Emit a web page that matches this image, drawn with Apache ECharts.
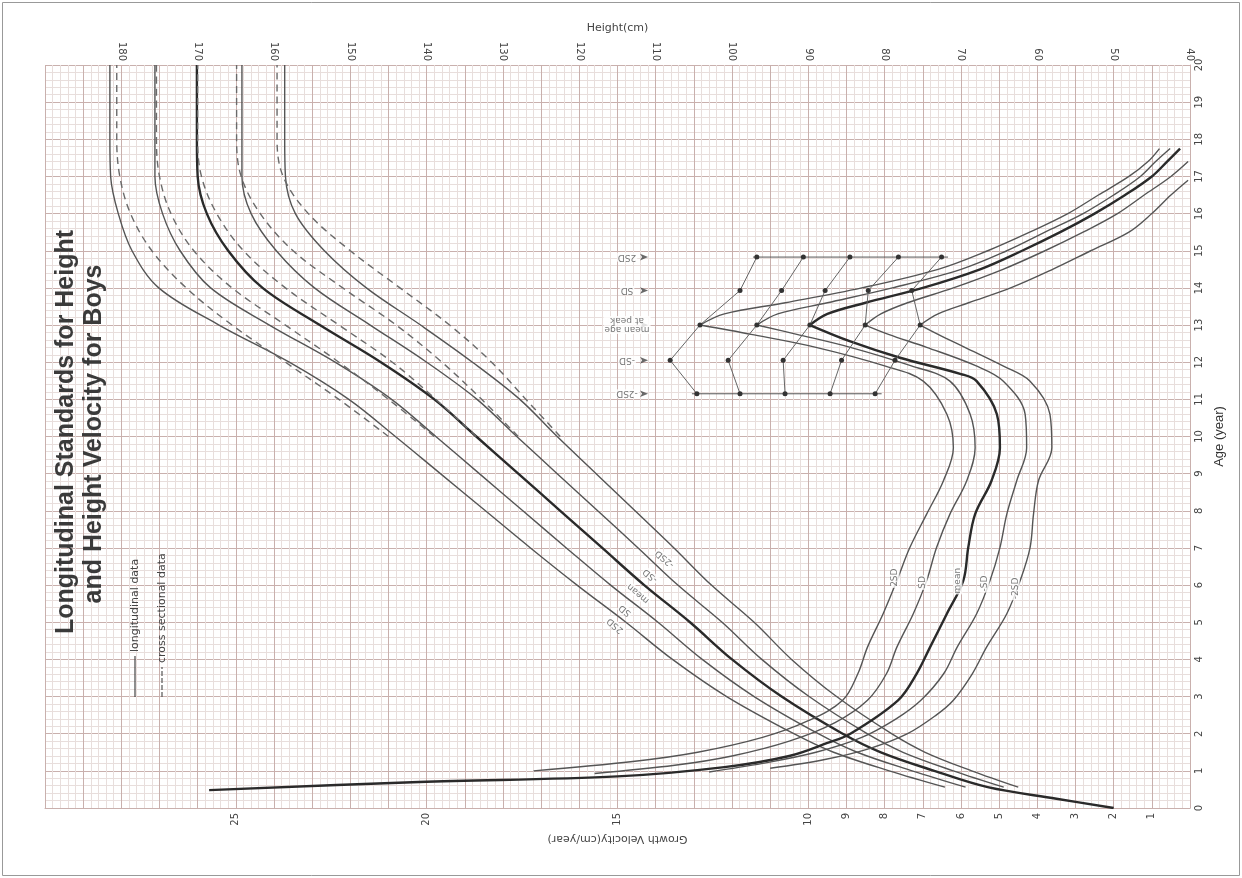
<!DOCTYPE html>
<html>
<head>
<meta charset="utf-8">
<title>Longitudinal Standards for Height and Height Velocity for Boys</title>
<script src="https://cdn.jsdelivr.net/npm/echarts/dist/echarts.min.js"></script>
<style>
  html, body { margin: 0; padding: 0; background: #fff; }
  #main { width: 1242px; height: 878px; }
</style>
</head>
<body>
<div id="main"></div>
<script>
// tick labels shown on the velocity axis
const velocityTicks = [1, 2, 3, 4, 5, 6, 7, 8, 9, 10, 15, 20, 25];

// longitudinal height (cm), solid lines
const heightMeanAges = [0, 0.25, 0.56, 1, 1.5, 2, 3, 4, 5, 6, 7, 8, 9, 10, 11, 12, 13, 14, 15, 16, 17, 18, 20];
const heightMean = [50, 57.5, 66.5, 73.5, 80.5, 85.5, 93.5, 100, 105.5, 111.5, 117, 122.5, 128, 133.5, 139, 146, 154, 161.5, 166, 168.8, 170, 170.1, 170.1];
const heightAges = [0.56, 1, 1.5, 2, 3, 4, 5, 6, 7, 8, 9, 10, 11, 12, 13, 14, 15, 16, 17, 18, 20];
const heightP2 = [72.1, 79.4, 86.7, 91.9, 100.7, 107.8, 113.9, 120.3, 126.4, 132.3, 138.2, 144.1, 150.2, 158.0, 167.2, 175.1, 178.6, 180.4, 181.4, 181.5, 181.5];
const heightP1 = [69.4, 76.4, 83.6, 88.7, 97.1, 103.9, 109.7, 115.9, 121.7, 127.4, 133.1, 138.8, 144.6, 152.0, 160.6, 168.3, 172.3, 174.6, 175.6, 175.6, 175.6];
const heightM1 = [64.4, 71.0, 77.6, 82.3, 89.9, 96.1, 101.3, 107.1, 112.3, 117.6, 122.9, 128.2, 133.4, 140.0, 147.4, 154.7, 159.7, 163.0, 164.2, 164.2, 164.2];
const heightM2 = [62.5, 68.6, 74.7, 79.1, 86.3, 92.2, 97.1, 102.7, 107.6, 112.7, 117.8, 122.9, 127.8, 134.0, 140.8, 147.9, 153.4, 157.2, 158.5, 158.6, 158.6];

// cross sectional height (cm), dashed lines
const crossAges = [10, 11, 12, 13, 14, 15, 16, 17, 18, 20];
const crossP2 = [145, 151.5, 158.5, 165.5, 171.5, 176, 178.8, 180.2, 180.6, 180.6];
const crossP1 = [139, 145, 151.5, 158.5, 165.5, 170.5, 173.5, 175, 175.4, 175.4];
const crossMean = [133.5, 138.8, 144.5, 151.5, 158.5, 164, 167.5, 169.5, 170, 170];
const crossM1 = [128, 132.8, 138, 144, 151, 157.5, 161.8, 164.3, 164.9, 164.9];
const crossM2 = [122.5, 127, 131.5, 137, 143.5, 150, 155.5, 158.8, 159.6, 159.6];

// growth velocity (cm/year) up to the peak at 13
const velP2Ages = [1.0, 1.25, 1.5, 1.9, 2.35, 2.9, 3.62, 4.33, 5.23, 6.12, 7.01, 7.91, 8.81, 9.7, 10.6, 11.49, 11.9, 12.4, 12.75, 13.0];
const velP2 = [17.2, 14.6, 12.9, 11.2, 10.0, 9.1, 8.7, 8.45, 8.04, 7.68, 7.34, 6.90, 6.46, 6.20, 6.37, 6.99, 8.0, 9.8, 11.5, 12.84];
const velP1Ages = [0.93, 1.15, 1.4, 1.8, 2.3, 2.9, 3.62, 4.33, 5.23, 6.12, 7.01, 7.91, 8.81, 9.7, 10.6, 11.49, 11.9, 12.4, 12.75, 13.0];
const velP1 = [15.6, 13.5, 12.0, 10.5, 9.3, 8.45, 7.95, 7.68, 7.25, 6.90, 6.64, 6.29, 5.85, 5.63, 5.76, 6.29, 7.3, 8.9, 10.3, 11.35];
const velMeanAges = [0.48, 0.7, 0.85, 1.1, 1.4, 1.75, 2.0, 2.9, 3.62, 4.33, 5.23, 6.12, 7.01, 7.91, 8.81, 9.7, 10.6, 11.49, 11.68, 12.12, 12.56, 13.0];
const velMean = [25.7, 20.2, 15.0, 12.2, 10.5, 9.5, 8.9, 7.65, 7.16, 6.81, 6.37, 5.94, 5.81, 5.63, 5.20, 4.98, 5.06, 5.59, 6.0, 7.6, 8.9, 9.96];
const velM1Ages = [0.97, 1.2, 1.5, 1.9, 2.4, 2.9, 3.62, 4.33, 5.23, 6.12, 7.01, 7.91, 8.81, 9.7, 10.6, 11.49, 11.9, 12.4, 12.75, 13.0];
const velM1 = [12.6, 11.2, 9.8, 8.6, 7.7, 7.05, 6.45, 6.1, 5.59, 5.24, 4.98, 4.80, 4.54, 4.28, 4.32, 4.89, 5.6, 6.9, 7.9, 8.51];
const velM2Ages = [1.07, 1.3, 1.6, 2.0, 2.5, 2.9, 3.62, 4.33, 5.23, 6.12, 7.01, 7.91, 8.81, 9.7, 10.6, 11.49, 11.9, 12.4, 12.75, 13.0];
const velM2 = [11.0, 9.6, 8.4, 7.4, 6.65, 6.2, 5.7, 5.33, 4.80, 4.45, 4.19, 4.10, 3.97, 3.62, 3.67, 4.19, 4.9, 5.9, 6.6, 7.07];

// growth velocity after the peak
const velPostAges = [13.0, 13.3, 13.6, 14.0, 14.5, 15.0, 15.5, 16.0, 16.5, 17.0, 17.4, 17.75];
const velP2Post = [12.84, 12.2, 10.6, 8.6, 6.6, 5.3, 4.2, 3.2, 2.4, 1.6, 1.1, 0.8];
const velP1Post = [11.35, 10.8, 9.5, 7.8, 6.0, 4.8, 3.8, 2.8, 2.0, 1.3, 0.9, 0.52];
const velMeanPost = [9.96, 9.5, 8.5, 7.0, 5.5, 4.4, 3.4, 2.5, 1.7, 1.0, 0.6, 0.26];
const velM1PostAges = [13.0, 13.3, 13.6, 14.0, 14.5, 15.0, 15.5, 16.0, 16.5, 17.0, 17.4];
const velM1Post = [8.51, 8.1, 7.4, 6.2, 4.9, 3.8, 2.8, 1.9, 1.2, 0.5, 0.05];
const velM2PostAges = [13.0, 13.3, 13.6, 14.0, 14.5, 15.0, 15.5, 16.0, 16.5, 16.9];
const velM2Post = [7.07, 6.6, 5.8, 4.7, 3.6, 2.6, 1.6, 1.0, 0.5, 0.05];

// peak velocity against age at peak (ladder)
const ladderAges = [11.15, 12.05, 13.0, 13.93, 14.83];
const ladderP2 = [12.92, 13.62, 12.84, 11.79, 11.35];
const ladderP1 = [11.79, 12.10, 11.35, 10.70, 10.13];
const ladderMean = [10.61, 10.66, 9.96, 9.56, 8.91];
const ladderM1 = [9.43, 9.13, 8.51, 8.43, 7.64];
const ladderM2 = [8.25, 7.73, 7.07, 7.29, 6.51];
const ladderRowLow = [13.05, 8.08];   // velocity span of the 11.15 row
const ladderRowHigh = [11.45, 6.34];  // velocity span of the 14.83 row
const ladderNames = ['-2SD', '-SD', 'mean age\nat peak', 'SD', '2SD'];

// curve labels
const curveNames = ['2SD', 'SD', 'mean', '-SD', '-2SD'];
const heightLabelH = [115.3, 114.0, 112.3, 110.7, 108.8];
const heightLabelAge = [4.91, 5.32, 5.77, 6.26, 6.71];
const velLabelV = [7.73, 7.00, 6.08, 5.37, 4.58];
const velLabelAge = [6.20, 6.07, 6.12, 6.04, 5.91];

function zip(xs, ages) {
  return xs.map((x, i) => [x, ages[i]]);
}

function curve(xIdx, values, ages, thick, dashed) {
  return {
    type: 'line',
    xAxisIndex: xIdx,
    data: zip(values, ages),
    smooth: 0.35,
    symbol: 'none',
    silent: true,
    z: 3,
    lineStyle: {
      color: thick ? '#2a2a2a' : (dashed ? '#6a6a6a' : '#555'),
      width: thick ? 2.4 : 1.4,
      type: dashed ? [7, 5] : 'solid'
    }
  };
}

function ladder(values) {
  return {
    type: 'line',
    xAxisIndex: 0,
    data: zip(values, ladderAges),
    symbol: 'circle',
    symbolSize: 5,
    showAllSymbol: true,
    silent: true,
    z: 4,
    itemStyle: { color: '#333' },
    lineStyle: { color: '#666', width: 1 }
  };
}

function labels(xIdx, values, ages, names, rotate, size) {
  return {
    type: 'scatter',
    xAxisIndex: xIdx,
    data: values.map((v, i) => [v, ages[i], names[i]]),
    symbol: 'circle',
    symbolSize: 1,
    silent: true,
    z: 5,
    itemStyle: { color: 'rgba(0,0,0,0)' },
    label: {
      show: true,
      position: 'inside',
      rotate: rotate,
      formatter: p => p.data[2],
      fontSize: size,
      color: '#555',
      fontFamily: 'DejaVu Sans',
      backgroundColor: '#fff',
      padding: [0, 1]
    }
  };
}

let series = [
  curve(1, heightP2, heightAges),
  curve(1, heightP1, heightAges),
  curve(1, heightMean, heightMeanAges, true),
  curve(1, heightM1, heightAges),
  curve(1, heightM2, heightAges),
  curve(1, crossP2, crossAges, false, true),
  curve(1, crossP1, crossAges, false, true),
  curve(1, crossMean, crossAges, false, true),
  curve(1, crossM1, crossAges, false, true),
  curve(1, crossM2, crossAges, false, true),
  curve(0, velP2, velP2Ages),
  curve(0, velP1, velP1Ages),
  curve(0, velMean, velMeanAges, true),
  curve(0, velM1, velM1Ages),
  curve(0, velM2, velM2Ages),
  curve(0, velP2Post, velPostAges),
  curve(0, velP1Post, velPostAges),
  curve(0, velMeanPost, velPostAges, true),
  curve(0, velM1Post, velM1PostAges),
  curve(0, velM2Post, velM2PostAges),
  ladder(ladderP2),
  ladder(ladderP1),
  ladder(ladderMean),
  ladder(ladderM1),
  ladder(ladderM2),
  {
    type: 'line', xAxisIndex: 0, symbol: 'none', silent: true, z: 4,
    data: zip(ladderRowLow, [ladderAges[0], ladderAges[0]]),
    lineStyle: { color: '#555', width: 1 }
  },
  {
    type: 'line', xAxisIndex: 0, symbol: 'none', silent: true, z: 4,
    data: zip(ladderRowHigh, [ladderAges[4], ladderAges[4]]),
    lineStyle: { color: '#555', width: 1 }
  },
  // little arrows pointing at the ladder rows
  {
    type: 'scatter', xAxisIndex: 0, silent: true, z: 4,
    data: ladderAges.map(a => [14.2, a]),
    symbol: 'arrow', symbolRotate: -90, symbolSize: [5, 8],
    itemStyle: { color: '#444' }
  },
  labels(0, ladderAges.map(() => 14.75), ladderAges, ladderNames, 180, 9),
  labels(1, heightLabelH, heightLabelAge, curveNames, 140, 9),
  labels(0, velLabelV, velLabelAge, curveNames, 90, 9)
];

let myChart = echarts.init(document.getElementById('main'));

const major = '#c9b0ad';
const minor = '#e8dedc';

let option = {
  animation: false,
  backgroundColor: '#fff',
  grid: { left: 45, right: 52, top: 65, bottom: 70 },
  xAxis: [
    {
      type: 'value',
      position: 'bottom',
      min: 0,
      max: 30,
      interval: 1,
      inverse: true,
      name: 'Growth Velocity(cm/year)',
      nameLocation: 'middle',
      nameGap: 25,
      nameRotate: 180,
      nameTextStyle: { fontSize: 11, color: '#444', fontFamily: 'DejaVu Sans' },
      axisLine: { show: true, lineStyle: { color: major } },
      axisTick: { show: false },
      axisLabel: {
        rotate: 90,
        margin: 5,
        fontSize: 10,
        color: '#444',
        fontFamily: 'DejaVu Sans',
        formatter: v => (velocityTicks.indexOf(v) >= 0 ? String(v) : '')
      },
      splitLine: { show: true, lineStyle: { color: major, width: 1 } },
      minorTick: { show: false, splitNumber: 5 },
      minorSplitLine: { show: true, lineStyle: { color: minor, width: 1 } }
    },
    {
      type: 'value',
      position: 'top',
      min: 40,
      max: 190,
      interval: 10,
      inverse: true,
      name: 'Height(cm)',
      nameLocation: 'middle',
      nameGap: 23,
      nameTextStyle: { fontSize: 11, color: '#444', fontFamily: 'DejaVu Sans' },
      axisLine: { show: false },
      axisTick: { show: false },
      axisLabel: {
        rotate: 90,
        margin: 4,
        fontSize: 10,
        color: '#444',
        fontFamily: 'DejaVu Sans',
        formatter: v => (v === 190 ? '' : String(v))
      },
      splitLine: { show: false }
    }
  ],
  yAxis: {
    type: 'value',
    position: 'right',
    min: 0,
    max: 20,
    interval: 1,
    name: 'Age (year)',
    nameLocation: 'middle',
    nameGap: 23,
    nameRotate: 90,
    nameTextStyle: { fontSize: 13, color: '#333', fontFamily: 'Liberation Sans' },
    axisLine: { show: true, lineStyle: { color: major } },
    axisTick: { show: false },
    axisLabel: { rotate: 90, margin: 4, fontSize: 10, color: '#444', fontFamily: 'DejaVu Sans' },
    splitLine: { show: true, lineStyle: { color: major, width: 1 } },
    minorTick: { show: false, splitNumber: 5 },
    minorSplitLine: { show: true, lineStyle: { color: minor, width: 1 } }
  },
  graphic: [
    {
      type: 'rect',
      shape: { x: 2.5, y: 2.5, width: 1237, height: 873 },
      style: { fill: null, stroke: '#999', lineWidth: 1 },
      silent: true
    },
    {
      type: 'text', x: 66, y: 432, rotation: Math.PI / 2, z: 10,
      style: {
        text: 'Longitudinal Standards for Height',
        font: 'bold 25px "Liberation Sans"',
        fill: '#3a3a3a', textAlign: 'center', textVerticalAlign: 'middle'
      }
    },
    {
      type: 'text', x: 94, y: 434, rotation: Math.PI / 2, z: 10,
      style: {
        text: 'and Height Velocity for Boys',
        font: 'bold 25px "Liberation Sans"',
        fill: '#3a3a3a', textAlign: 'center', textVerticalAlign: 'middle'
      }
    },
    {
      type: 'line', z: 10,
      shape: { x1: 135, y1: 697, x2: 135, y2: 656 },
      style: { stroke: '#444', lineWidth: 1.2 }
    },
    {
      type: 'text', x: 135, y: 652, rotation: Math.PI / 2, z: 10,
      style: {
        text: 'longitudinal data', font: '11px "DejaVu Sans"',
        fill: '#444', textAlign: 'left', textVerticalAlign: 'middle'
      }
    },
    {
      type: 'line', z: 10,
      shape: { x1: 162, y1: 697, x2: 162, y2: 667 },
      style: { stroke: '#555', lineWidth: 1.2, lineDash: [5, 2] }
    },
    {
      type: 'text', x: 162, y: 663, rotation: Math.PI / 2, z: 10,
      style: {
        text: 'cross sectional data', font: '11px "DejaVu Sans"',
        fill: '#444', textAlign: 'left', textVerticalAlign: 'middle'
      }
    }
  ],
  series: series
};

myChart.setOption(option);
</script>
</body>
</html>
